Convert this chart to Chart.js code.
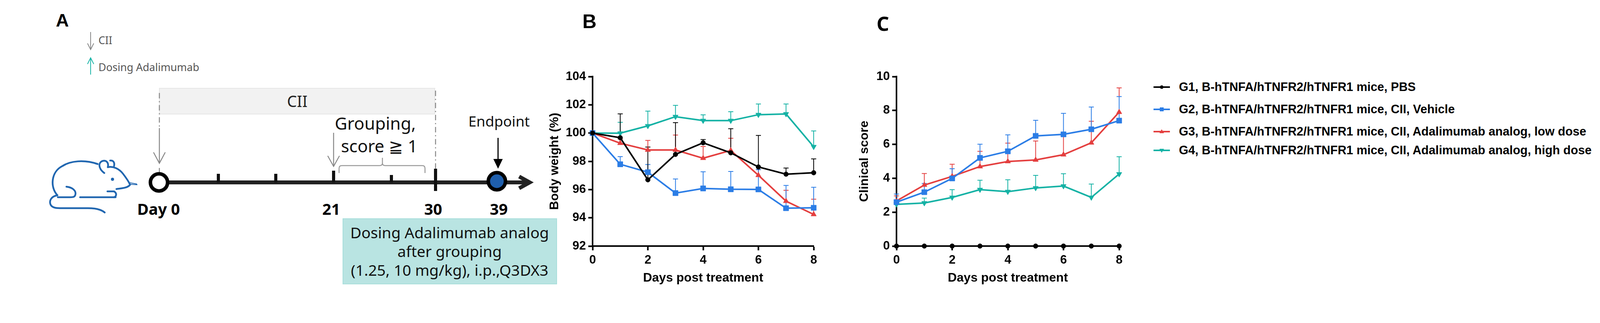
<!DOCTYPE html>
<html>
<head>
<meta charset="utf-8">
<script src="https://cdn.jsdelivr.net/npm/chart.js@4.4.1/dist/chart.umd.min.js"></script>
<style>
  body { margin: 0; background: #fff; }
  #page { position: relative; width: 4186px; height: 827px; overflow: hidden; background: #fff; }
  canvas { position: absolute; }
  .panel { position: absolute; font-family: "Liberation Sans", Arial, sans-serif; font-weight: bold; color: #000; }
  .leg { position: absolute; left: 2953px; height: 30px; display: flex; align-items: center;
         font-family: "Liberation Sans", Arial, sans-serif; font-weight: bold; font-size: 31px; color: #000; white-space: nowrap; }
  .leg svg { margin-right: 23px; }
</style>
</head>
<body>
<div id="page">

<!-- panel A: study design schematic -->
<svg width="1460" height="827" style="position:absolute;left:0;top:0" font-family="Noto Sans, Open Sans, sans-serif">
  <text x="143" y="68" font-family="Liberation Sans, Arial" font-weight="bold" font-size="46">A</text>

  <line x1="232" y1="82" x2="232" y2="126" stroke="#888" stroke-width="2"/>
  <polyline points="224,111 232,127 240,111" fill="none" stroke="#888" stroke-width="2"/>
  <text x="252" y="113" font-size="27" fill="#555">CII</text>
  <line x1="232" y1="191" x2="232" y2="149" stroke="#1ab5a8" stroke-width="2"/>
  <polyline points="224,164 232,148 240,164" fill="none" stroke="#1ab5a8" stroke-width="2"/>
  <text x="252" y="182" font-size="27" fill="#555">Dosing Adalimumab</text>

  <rect x="408" y="226" width="705" height="66" fill="#f2f2f2" stroke="#e6e6e6" stroke-width="2"/>
  <text x="761" y="274" font-size="40" fill="#222" text-anchor="middle">CII</text>

  <line x1="408" y1="238" x2="408" y2="328" stroke="#888" stroke-width="2.5" stroke-dasharray="14,7,3,7"/>
  <line x1="408" y1="328" x2="408" y2="418" stroke="#888" stroke-width="2.5"/>
  <polyline points="393,390 408,418 423,390" fill="none" stroke="#888" stroke-width="2.5"/>
  <line x1="408" y1="430" x2="408" y2="443" stroke="#888" stroke-width="2.5"/>
  <line x1="1115" y1="232" x2="1115" y2="432" stroke="#888" stroke-width="2.5" stroke-dasharray="14,7,3,7"/>

  <!-- mouse -->
  <g fill="none" stroke="#2066b0" stroke-width="4.5" stroke-linecap="round" stroke-linejoin="round">
    <path d="M147 500 C128 480 130 440 160 425 C180 412 215 408 250 420"/>
    <path d="M267 443 C250 430 252 415 263 412 C272 410 279 416 276 428"/>
    <path d="M282 411 C290 410 294 416 292 425"/>
    <path d="M276 428 C290 425 305 432 315 445 C325 458 330 466 333 473 C326 482 310 482 298 484"/>
    <path d="M275 490 L292 490 C300 495 298 503 292 505"/>
    <path d="M205 505 L296 505"/>
    <path d="M170 478 C188 480 195 490 193 498 C192 504 188 505 180 505 L148 505"/>
    <path d="M147 500 C130 503 125 515 130 525 C135 533 145 533 160 533 L225 533 C245 533 260 537 268 544"/>
    <path d="M333 468 L350 471 M334 472 L351 473" stroke-width="2"/>
  </g>
  <circle cx="288" cy="459" r="4" fill="#2066b0"/>

  <!-- timeline -->
  <line x1="430" y1="467" x2="1350" y2="467" stroke="#222" stroke-width="10"/>
  <polyline points="1329,452 1356,467 1329,482" fill="none" stroke="#222" stroke-width="10" stroke-linejoin="miter"/>
  <line x1="559" y1="445" x2="559" y2="467" stroke="#111" stroke-width="8"/>
  <line x1="706" y1="445" x2="706" y2="467" stroke="#111" stroke-width="8"/>
  <line x1="854" y1="437" x2="854" y2="467" stroke="#111" stroke-width="8"/>
  <line x1="1002" y1="448" x2="1002" y2="467" stroke="#111" stroke-width="8"/>
  <line x1="1115" y1="432" x2="1115" y2="489" stroke="#111" stroke-width="8"/>
  <circle cx="407" cy="467" r="22" fill="#fff" stroke="#000" stroke-width="9"/>
  <circle cx="1272" cy="464" r="22" fill="#1f5fad" stroke="#000" stroke-width="9"/>

  <line x1="854" y1="340" x2="854" y2="426" stroke="#888" stroke-width="2.5"/>
  <polyline points="839,399 854,426 869,399" fill="none" stroke="#888" stroke-width="2.5"/>
  <path d="M868 443 L868 431 Q868 424 875 424 L972 424 Q979 424 979 417 L979 404 L979 417 Q979 424 986 424 L1081 424 Q1088 424 1088 431 L1088 443"
        fill="none" stroke="#999" stroke-width="2.5"/>
  <text x="857" y="332" font-size="44" fill="#111">Grouping,</text>
  <text x="873" y="390" font-size="44" fill="#111">score ≧ 1</text>

  <text x="1199" y="324" font-size="37" fill="#111">Endpoint</text>
  <line x1="1275" y1="353" x2="1275" y2="410" stroke="#000" stroke-width="3"/>
  <polygon points="1263,407 1287,407 1275,432" fill="#000"/>

  <g font-weight="bold" font-size="40" fill="#000" text-anchor="middle">
    <text x="406" y="550">Day 0</text>
    <text x="848" y="550">21</text>
    <text x="1109" y="550">30</text>
    <text x="1277" y="550">39</text>
  </g>

  <rect x="878" y="560" width="547" height="167" fill="#b9e4e2" stroke="#a8dedb" stroke-width="2"/>
  <g font-size="39" fill="#111" text-anchor="middle">
    <text x="1151" y="610">Dosing Adalimumab analog</text>
    <text x="1151" y="658">after grouping</text>
    <text x="1151" y="706">(1.25, 10 mg/kg), i.p.,Q3DX3</text>
  </g>
</svg>

<div class="panel" style="left:1491px;top:26px;font-size:50px">B</div>
<div class="panel" style="left:2244px;top:26px;font-size:50px;font-family:'Noto Sans',sans-serif">C</div>

<canvas id="weightChart" width="720" height="780" style="left:1400px;top:0"></canvas>
<canvas id="scoreChart" width="720" height="780" style="left:2190px;top:0"></canvas>

<div id="legend"></div>
</div>

<script>
/* #region  DATA */
const days = [0, 1, 2, 3, 4, 5, 6, 7, 8];
const groupNames = [
  "G1, B-hTNFA/hTNFR2/hTNFR1 mice, PBS",
  "G2, B-hTNFA/hTNFR2/hTNFR1 mice, CII, Vehicle",
  "G3, B-hTNFA/hTNFR2/hTNFR1 mice, CII, Adalimumab analog, low dose",
  "G4, B-hTNFA/hTNFR2/hTNFR1 mice, CII, Adalimumab analog, high dose",
];
const groupColors = ["#000000", "#2b7de6", "#e43f3f", "#15b2a5"];
const groupMarkers = ["circle", "rect", "triangle", "triangle"];
const groupRotation = [0, 0, 0, 180];

// body weight (%) mean and SEM
const weightG1 = [100, 99.67, 96.69, 98.49, 99.31, 98.6, 97.6, 97.09, 97.19];
const weightG2 = [100, 97.79, 97.23, 95.75, 96.08, 96.02, 96.01, 94.68, 94.71];
const weightG3 = [100, 99.28, 98.8, 98.8, 98.22, 98.77, 97.01, 95.18, 94.24];
const weightG4 = [100, 99.99, 100.51, 101.16, 100.88, 100.88, 101.3, 101.35, 99.03];
const weightSemG1 = [0, 1.69, 2.32, 2.25, 0.23, 1.71, 2.23, 0.43, 0.98];
const weightSemG2 = [0, 0.54, 0.54, 1.0, 1.18, 1.26, 1.4, 1.61, 1.45];
const weightSemG3 = [0, 0.3, 0.68, 1.06, 0.83, 0.86, 0.4, 0.77, 1.08];
const weightSemG4 = [0, 0.77, 1.04, 0.8, 0.41, 0.63, 0.76, 0.71, 1.12];

// clinical score mean and SEM
const scoreG1 = [0, 0, 0, 0, 0, 0, 0, 0, 0];
const scoreG2 = [2.59, 3.18, 3.99, 5.2, 5.59, 6.5, 6.59, 6.89, 7.4];
const scoreG3 = [2.66, 3.6, 4.11, 4.69, 4.99, 5.08, 5.39, 6.09, 7.9];
const scoreG4 = [2.46, 2.54, 2.87, 3.33, 3.21, 3.43, 3.54, 2.87, 4.25];
const scoreSemG1 = [0, 0, 0, 0, 0, 0, 0, 0, 0];
const scoreSemG2 = [0.48, 0.51, 0.57, 0.81, 0.97, 0.92, 1.24, 1.31, 1.42];
const scoreSemG3 = [0.3, 0.68, 0.72, 0.9, 1.08, 1.12, 1.2, 1.27, 1.43];
const scoreSemG4 = [0.1, 0.29, 0.46, 0.55, 0.7, 0.74, 0.73, 0.79, 1.02];

const weightTicks = { min: 92, max: 104, step: 2 };
const scoreTicks = { min: 0, max: 10, step: 2 };
const dayTicks = { min: 0, max: 8, step: 2 };
/* #endregion */

/* #region  CHART.JS STYLING */
Chart.defaults.font.family = "'Liberation Sans', Arial, sans-serif";
Chart.defaults.font.weight = "bold";
Chart.defaults.color = "#000";

// upper SEM bars, drawn under the lines
const errorBars = {
  id: "errorBars",
  beforeDatasetsDraw(chart) {
    const { ctx, scales } = chart;
    ctx.save();
    for (let i = chart.data.datasets.length - 1; i >= 0; i--) {
      const ds = chart.data.datasets[i];
      ds.data.forEach((pt, j) => {
        const e = ds.errors[j];
        if (!e) return;
        const px = scales.x.getPixelForValue(pt.x);
        const y0 = scales.y.getPixelForValue(pt.y);
        const y1 = scales.y.getPixelForValue(pt.y + e);
        ctx.strokeStyle = ds.borderColor;
        ctx.lineWidth = 2;
        ctx.beginPath();
        ctx.moveTo(px, y0);
        ctx.lineTo(px, y1);
        ctx.moveTo(px - 6.5, y1);
        ctx.lineTo(px + 6.5, y1);
        ctx.stroke();
      });
    }
    ctx.restore();
  },
};

function makeSets(means, sems) {
  return means.map((m, i) => ({
    label: groupNames[i],
    data: days.map((d, j) => ({ x: d, y: m[j] })),
    errors: sems[i],
    borderColor: groupColors[i],
    backgroundColor: groupColors[i],
    borderWidth: 4,
    pointStyle: groupMarkers[i],
    rotation: groupRotation[i],
    pointRadius: i === 0 ? 6 : i === 1 ? 9.5 : 8,
    pointBorderWidth: 1,
    tension: 0,
    clip: false,
  }));
}

function makeOptions(yt, yTitle, yWidth, titlePad, rightPad) {
  return {
    responsive: false,
    animation: false,
    layout: { padding: { left: 0, right: rightPad, top: 196, bottom: 0 } },
    plugins: { legend: { display: false }, tooltip: { enabled: false } },
    scales: {
      x: {
        type: "linear",
        min: dayTicks.min,
        max: dayTicks.max,
        ticks: { stepSize: dayTicks.step, font: { size: 31, weight: "bold" }, padding: 7, color: "#000" },
        grid: { drawOnChartArea: false, drawTicks: true, tickLength: 11, tickWidth: 4, color: "#000" },
        border: { display: true, width: 4, color: "#000" },
        title: { display: true, text: "Days post treatment", font: { size: 32, weight: "bold" }, color: "#000", padding: { top: 0, bottom: 49 } },
        afterFit(scale) { scale.height = 150; },
      },
      y: {
        min: yt.min,
        max: yt.max,
        ticks: { stepSize: yt.step, font: { size: 31, weight: "bold" }, padding: 6, color: "#000" },
        grid: { drawOnChartArea: false, drawTicks: true, tickLength: 11, tickWidth: 4, color: "#000" },
        border: { display: true, width: 4, color: "#000" },
        title: { display: true, text: yTitle, font: { size: 32, weight: "bold" }, color: "#000", padding: { top: titlePad, bottom: 0 } },
        afterFit(scale) { scale.width = yWidth; },
      },
    },
  };
}

const weightChart = new Chart(document.getElementById("weightChart").getContext("2d"), {
  type: "line",
  data: { datasets: makeSets([weightG1, weightG2, weightG3, weightG4], [weightSemG1, weightSemG2, weightSemG3, weightSemG4]) },
  options: makeOptions(weightTicks, "Body weight (%)", 117, 1, 37),
  plugins: [errorBars],
});

const scoreChart = new Chart(document.getElementById("scoreChart").getContext("2d"), {
  type: "line",
  data: { datasets: makeSets([scoreG1, scoreG2, scoreG3, scoreG4], [scoreSemG1, scoreSemG2, scoreSemG3, scoreSemG4]) },
  options: makeOptions(scoreTicks, "Clinical score", 105, 4, 45),
  plugins: [errorBars],
});
/* #endregion */

/* #region  LEGEND */
const legendRows = [223, 280, 337, 385];
const legend = document.getElementById("legend");
groupNames.forEach((name, i) => {
  const shape =
    i === 0 ? `<circle cx="21" cy="10" r="4.5" fill="${groupColors[i]}"/>` :
    i === 1 ? `<rect x="16" y="5" width="10" height="10" fill="${groupColors[i]}"/>` :
    i === 2 ? `<polygon points="15,14 27,14 21,4" fill="${groupColors[i]}"/>` :
              `<polygon points="15,6 27,6 21,16" fill="${groupColors[i]}"/>`;
  legend.innerHTML +=
    `<div class="leg" style="top:${legendRows[i] - 15}px">
      <svg width="42" height="20"><line x1="0" y1="10" x2="42" y2="10" stroke="${groupColors[i]}" stroke-width="4"/>${shape}</svg>
      <span>${name}</span>
    </div>`;
});
/* #endregion */
</script>
</body>
</html>
